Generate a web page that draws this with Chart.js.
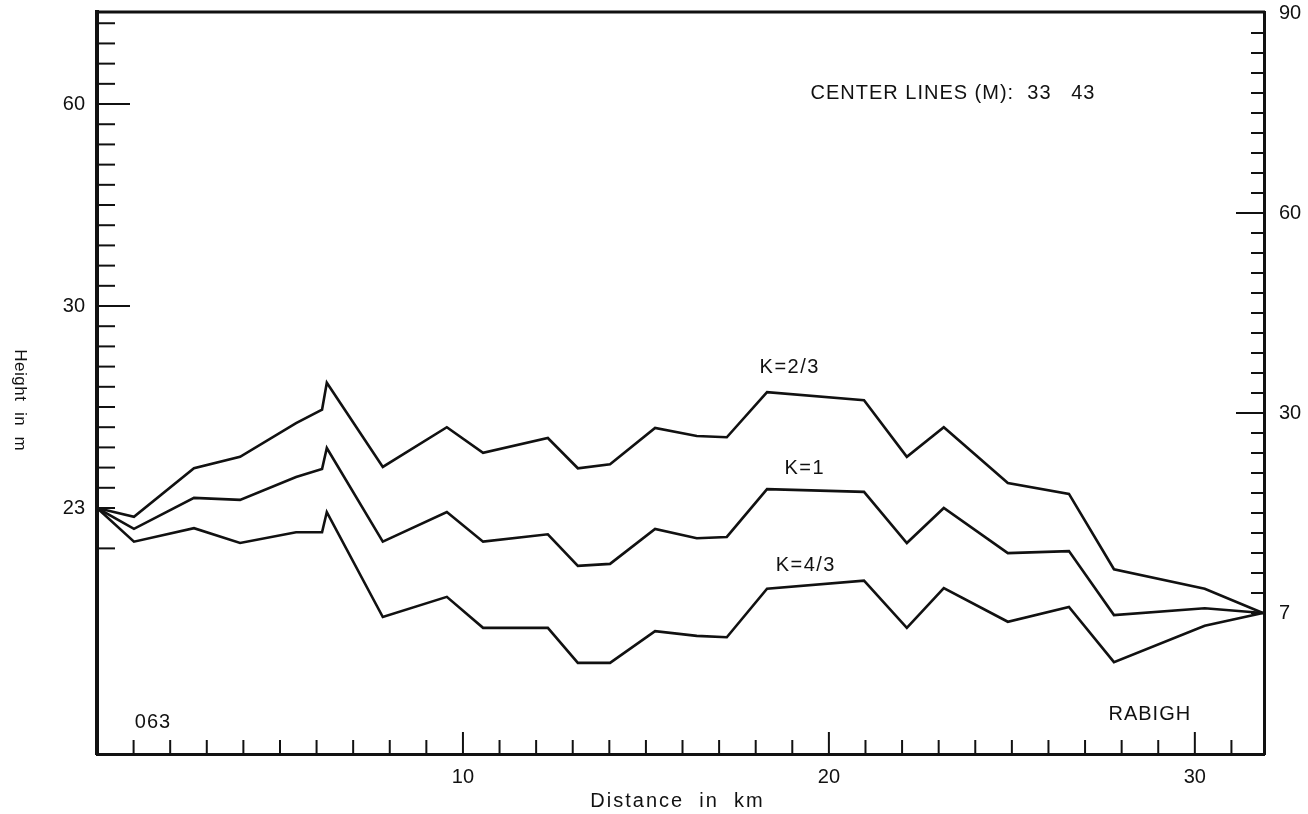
<!DOCTYPE html>
<html>
<head>
<meta charset="utf-8">
<title>Path profile - Rabigh</title>
<script src="https://cdn.jsdelivr.net/npm/chart.js@4.4.0/dist/chart.umd.min.js"></script>
<style>
  html, body { margin: 0; padding: 0; background: #fff; }
  canvas { display: block; }
</style>
</head>
<body>
<canvas id="perfil" width="1308" height="814"></canvas>
<script>
// Distances of the profile vertices (km)
var distanciaKm = [0, 1.01, 2.65, 3.91, 5.44, 6.15, 6.28, 7.81, 9.56, 10.55, 12.32, 13.14, 14.02,
    15.25, 16.39, 17.21, 18.31, 20.96, 22.13, 23.14, 24.89, 26.56, 27.79, 30.27, 31.86];

// Heights read on the left scale (m) for each K value
var alturaK23 = [0, -1.3, 5.9, 7.6, 12.6, 14.6, 18.6, 6.1, 12.0, 8.2, 10.4, 5.9, 6.5,
    11.9, 10.7, 10.5, 17.2, 16.0, 7.6, 12.0, 3.7, 2.1, -9.1, -12.0, -15.6];
var alturaK1 = [0, -3.1, 1.5, 1.2, 4.6, 5.8, 8.9, -5.0, -0.6, -5.0, -3.9, -8.6, -8.3,
    -3.1, -4.5, -4.3, 2.8, 2.4, -5.2, 0, -6.7, -6.4, -15.9, -14.9, -15.6];
var alturaK43 = [0, -5.0, -3.0, -5.2, -3.6, -3.6, -0.6, -16.2, -13.2, -17.8, -17.8, -23.0, -23.0,
    -18.3, -19.0, -19.2, -12.0, -10.8, -17.8, -11.9, -16.9, -14.7, -22.9, -17.5, -15.6];

// Tick labels
var etiquetasIzq = [{ v: 0, txt: '23' }, { v: 30, txt: '30' }, { v: 60, txt: '60' }];
var etiquetasDer = [{ v: 0, txt: '7' }, { v: 30, txt: '30' }, { v: 60, txt: '60' }, { v: 90, txt: '90' }];
var etiquetasX = [10, 20, 30];

// Texts written inside the frame (x in km, y on the left scale)
var rotulos = [
    { txt: 'CENTER LINES (M):  33   43', x: 23.39, y: 61.6, esp: 1 },
    { txt: 'K=2/3', x: 18.93, y: 20.8, esp: 1.5 },
    { txt: 'K=1', x: 19.34, y: 5.9, esp: 1.5 },
    { txt: 'K=4/3', x: 19.37, y: -8.5, esp: 1.5 },
    { txt: '063', x: 1.53, y: -31.8, esp: 1 },
    { txt: 'RABIGH', x: 28.77, y: -30.7, esp: 1 }
];

var fuente = '"Liberation Sans", Arial, sans-serif';

function serie(alturas) {
    return distanciaKm.map(function(d, i) { return { x: d, y: alturas[i] }; });
}

function linea(ctx, x1, y1, x2, y2) {
    ctx.beginPath();
    ctx.moveTo(x1, y1);
    ctx.lineTo(x2, y2);
    ctx.stroke();
}

// the frame has fixed margins: no extra room for the end labels
function margenFijo(tam) {
    return function(s) {
        if (s.isHorizontal()) { s.height = tam; } else { s.width = tam; }
        s.paddingTop = 0;
        s.paddingBottom = 0;
        s.paddingLeft = 0;
        s.paddingRight = 0;
    };
}

// Draws the inward ticks, the top edge, the axis titles and the free texts
var marcasEjes = {
    id: 'marcasEjes',
    afterDraw: function(chart) {
        var ctx = chart.ctx;
        var area = chart.chartArea;
        var sx = chart.scales.x, sy = chart.scales.y, sy2 = chart.scales.y2;
        ctx.save();
        ctx.strokeStyle = '#111';
        ctx.lineWidth = 2;

        // left scale: every 3 m
        for (var v = -6; v <= 72; v += 3) {
            if (v === -3) continue;
            var py = sy.getPixelForValue(v);
            var largo = (v === 30 || v === 60) ? 33 : 18;
            linea(ctx, area.left, py, area.left + largo, py);
        }
        // right scale: every 3 m
        for (var r = 0; r <= 87; r += 3) {
            var py2 = sy2.getPixelForValue(r);
            var largo2 = (r === 30 || r === 60) ? 28 : 13;
            linea(ctx, area.right - largo2, py2, area.right, py2);
        }
        // distance: every km
        for (var k = 1; k <= 31; k++) {
            var px = sx.getPixelForValue(k);
            var largo3 = (k % 10 === 0) ? 22 : 14;
            linea(ctx, px, area.bottom, px, area.bottom - largo3);
        }

        // top edge of the frame
        ctx.lineWidth = 3;
        linea(ctx, area.left - 1, area.top, area.right + 1, area.top);

        // texts
        ctx.fillStyle = '#111';
        ctx.font = '20px ' + fuente;
        ctx.textAlign = 'center';
        ctx.textBaseline = 'middle';
        rotulos.forEach(function(r) {
            ctx.letterSpacing = r.esp + 'px';
            ctx.fillText(r.txt, sx.getPixelForValue(r.x), sy.getPixelForValue(r.y));
        });

        // horizontal axis title
        ctx.letterSpacing = '2px';
        ctx.fillText('Distance  in  km', (area.left + area.right) / 2 - 3, area.bottom + 47);

        // vertical axis title, read top to bottom
        ctx.translate(sy.left + 20, sy.getPixelForValue(16));
        ctx.rotate(Math.PI / 2);
        ctx.font = '17px ' + fuente;
        ctx.letterSpacing = '0.5px';
        ctx.fillText('Height  in  m', 0, 0);
        ctx.restore();
    }
};

var estiloLinea = { borderColor: '#111', borderWidth: 2.6, pointRadius: 0, tension: 0, fill: false };

var ctx = document.getElementById('perfil').getContext('2d');
var perfilChart = new Chart(ctx, {
    type: 'line',
    data: {
        datasets: [
            Object.assign({ label: 'K=2/3', data: serie(alturaK23) }, estiloLinea),
            Object.assign({ label: 'K=1', data: serie(alturaK1) }, estiloLinea),
            Object.assign({ label: 'K=4/3', data: serie(alturaK43) }, estiloLinea)
        ]
    },
    options: {
        responsive: false,
        animation: false,
        devicePixelRatio: 1,
        layout: { padding: { top: 12, left: 0, right: 0, bottom: 0 } },
        plugins: {
            legend: { display: false },
            tooltip: { enabled: false }
        },
        scales: {
            x: {
                type: 'linear',
                position: 'bottom',
                min: 0,
                max: 31.89,
                afterFit: margenFijo(60),
                afterBuildTicks: function(s) {
                    s.ticks = etiquetasX.map(function(v) { return { value: v }; });
                },
                grid: { display: false, drawTicks: false },
                border: { display: true, color: '#111', width: 3 },
                ticks: {
                    color: '#111',
                    padding: 11,
                    autoSkip: false,
                    maxRotation: 0,
                    font: { family: fuente, size: 20 },
                    callback: function(v) { return String(v); }
                }
            },
            y: {
                type: 'linear',
                position: 'left',
                min: -36.54,
                max: 73.67,
                afterFit: margenFijo(97),
                afterBuildTicks: function(s) {
                    s.ticks = etiquetasIzq.map(function(e) { return { value: e.v }; });
                },
                grid: { display: false, drawTicks: false },
                border: { display: true, color: '#111', width: 4 },
                ticks: {
                    color: '#111',
                    padding: 12,
                    autoSkip: false,
                    font: { family: fuente, size: 20 },
                    callback: function(v) {
                        var e = etiquetasIzq.find(function(t) { return t.v === v; });
                        return e ? e.txt : '';
                    }
                }
            },
            y2: {
                type: 'linear',
                position: 'right',
                min: -21.15,
                max: 90.15,
                afterFit: margenFijo(44),
                afterBuildTicks: function(s) {
                    s.ticks = etiquetasDer.map(function(e) { return { value: e.v }; });
                },
                grid: { display: false, drawTicks: false },
                border: { display: true, color: '#111', width: 3 },
                ticks: {
                    color: '#111',
                    padding: 15,
                    autoSkip: false,
                    font: { family: fuente, size: 20 },
                    callback: function(v) {
                        var e = etiquetasDer.find(function(t) { return t.v === v; });
                        return e ? e.txt : '';
                    }
                }
            }
        }
    },
    plugins: [marcasEjes]
});
</script>
</body>
</html>
